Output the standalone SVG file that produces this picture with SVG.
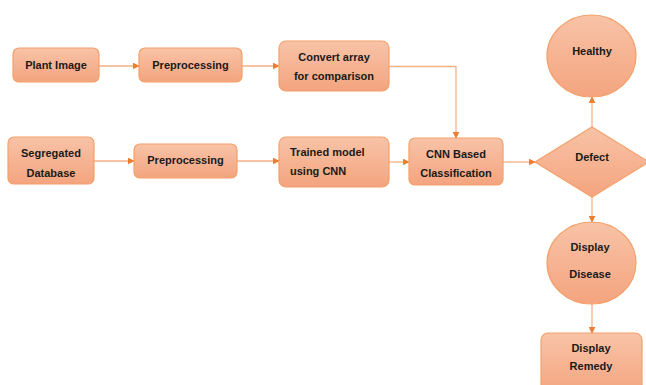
<svg xmlns="http://www.w3.org/2000/svg" width="646" height="385" viewBox="0 0 646 385">
<defs>
<linearGradient id="g" x1="0" y1="0" x2="0" y2="1">
<stop offset="0" stop-color="#F8C3A7"/>
<stop offset="1" stop-color="#F4A47F"/>
</linearGradient>
<marker id="ah" viewBox="0 0 10 10" refX="9" refY="5" markerWidth="7" markerHeight="7" markerUnits="userSpaceOnUse" orient="auto">
<path d="M0,0 L10,5 L0,10 Z" fill="#ED7D31"/>
</marker>
<style>
.n{fill:url(#g);stroke:#F4A06A;stroke-width:1.2}
.t{font-family:"Liberation Sans",Arial,sans-serif;font-weight:bold;font-size:11px;fill:#1a1a1a;text-anchor:middle;dominant-baseline:central}
.c{fill:none;stroke:#F4B183;stroke-width:1.3;marker-end:url(#ah)}
</style>
</defs>
<rect width="646" height="385" fill="#fff"/>
<g id="connectors">
<path class="c" d="M99,66 L139,66"/>
<path class="c" d="M242,66 L279,66"/>
<path class="c" d="M389,66.5 L456,66.5 L456,138"/>
<path class="c" d="M94,161 L134,161"/>
<path class="c" d="M237,161 L279,161"/>
<path class="c" d="M389,162 L409,162"/>
<path class="c" d="M503,162 L535,162"/>
<path class="c" d="M592,127 L592,97"/>
<path class="c" d="M592,197 L592,222"/>
<path class="c" d="M592,304 L592,333"/>
</g>
<g id="plant-image"><rect class="n" x="13" y="48" width="86" height="34" rx="6"/><text class="t" x="56" y="65">Plant Image</text></g>
<g id="preprocessing-1"><rect class="n" x="139" y="48" width="103" height="34" rx="6"/><text class="t" x="190.5" y="65">Preprocessing</text></g>
<g id="convert-array"><rect class="n" x="279" y="41" width="110" height="50" rx="7"/><text class="t" x="334" y="57">Convert array</text><text class="t" x="334" y="76">for comparison</text></g>
<g id="segregated-database"><rect class="n" x="8" y="137" width="86" height="47" rx="6"/><text class="t" x="51" y="153">Segregated</text><text class="t" x="51" y="173">Database</text></g>
<g id="preprocessing-2"><rect class="n" x="134" y="144" width="103" height="34" rx="6"/><text class="t" x="185.5" y="160">Preprocessing</text></g>
<g id="trained-model"><rect class="n" x="279" y="137" width="110" height="50" rx="7"/><text class="t" x="290" y="152" style="text-anchor:start">Trained model</text><text class="t" x="290" y="171" style="text-anchor:start">using CNN</text></g>
<g id="cnn-classification"><rect class="n" x="409" y="138" width="94" height="47" rx="6"/><text class="t" x="456" y="154">CNN Based</text><text class="t" x="456" y="173">Classification</text></g>
<g id="healthy"><ellipse class="n" cx="591.5" cy="56" rx="44.5" ry="41"/><text class="t" x="592" y="51">Healthy</text></g>
<g id="defect"><polygon class="n" points="592,127 649,162 592,197 535,162"/><text class="t" x="592" y="157">Defect</text></g>
<g id="display-disease"><ellipse class="n" cx="591.5" cy="263" rx="44.5" ry="41"/><text class="t" x="590" y="247">Display</text><text class="t" x="590" y="274">Disease</text></g>
<g id="display-remedy"><rect class="n" x="541" y="333" width="101" height="62" rx="7"/><text class="t" x="591" y="348">Display</text><text class="t" x="591" y="366">Remedy</text></g>
</svg>
